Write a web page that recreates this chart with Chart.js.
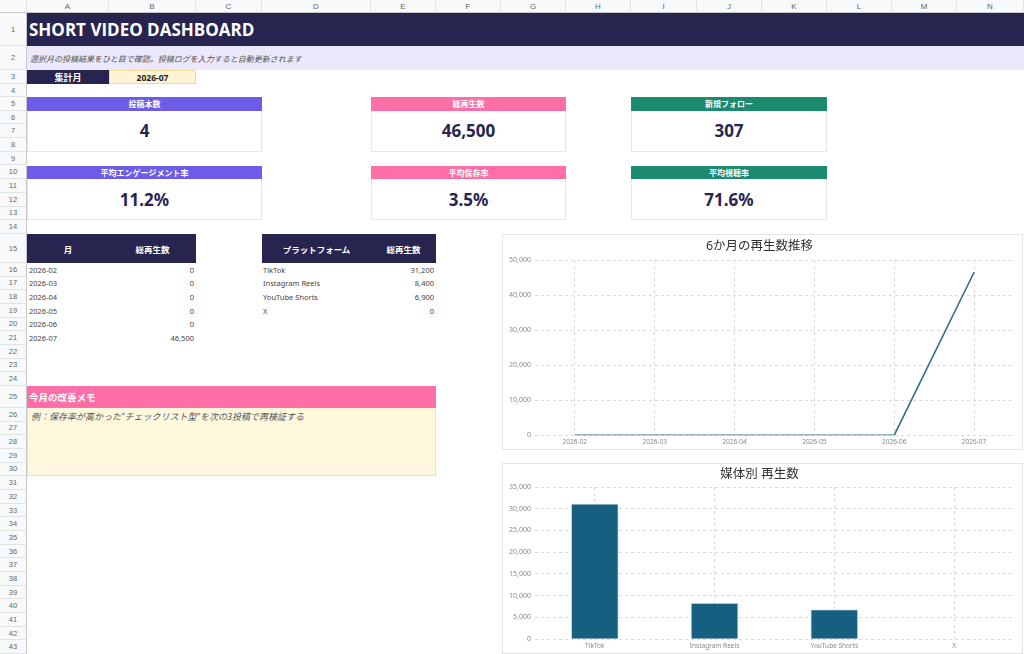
<!DOCTYPE html>
<html lang="ja">
<head>
<meta charset="UTF-8">
<title>Short Video Dashboard</title>
<script src="https://cdn.jsdelivr.net/npm/chart.js"></script>
<style>
  html, body { margin: 0; padding: 0; }
  body {
    width: 1024px; height: 654px; overflow: hidden; position: relative; background: #fff;
    font-family: "Noto Sans", "Noto Sans CJK JP", sans-serif; color: #333;
  }
  .abs { position: absolute; box-sizing: border-box; display: flex; align-items: center; white-space: nowrap; }
  .hdr { background: #f8f9fa; color: #666; font-family: "Liberation Sans", Arial, sans-serif; justify-content: center; }
  .colhdr { font-size: 8px; border-right: 1px solid #e2e3e3; border-bottom: 1px solid #c8c8c8; }
  .rowhdr { font-size: 7.5px; border-bottom: 1px solid #e2e3e3; border-right: 1px solid #c8c8c8; }
  .chartbox { position: absolute; box-sizing: border-box; border: 1px solid #e4e4e4; background: #fff; }
</style>
</head>
<body>
<div class="chartbox" style="left:502px;top:234px;width:521px;height:216px;"><canvas id="trendChart"></canvas></div>
<div class="chartbox" style="left:502px;top:463px;width:521px;height:191px;"><canvas id="platformChart"></canvas></div>

<script>
// ---- data ----
const months = ["2026-02", "2026-03", "2026-04", "2026-05", "2026-06", "2026-07"];
const monthlyViews = [0, 0, 0, 0, 0, 46500];
const platforms = ["TikTok", "Instagram Reels", "YouTube Shorts", "X"];
const platformViews = [31200, 8400, 6900, 0];
const kpiLabels = ["投稿本数", "総再生数", "新規フォロー", "平均エンゲージメント率", "平均保存率", "平均視聴率"];
const kpiValues = ["4", "46,500", "307", "11.2%", "3.5%", "71.6%"];
const trendTicks = [0, 10000, 20000, 30000, 40000, 50000];
const platformTicks = [0, 5000, 10000, 15000, 20000, 25000, 30000, 35000];

// ---- sheet layout ----
const colW = [82, 87, 66, 109, 65, 65, 65, 65, 66, 65, 65, 65, 65, 67];
const rowH = [33, 24, 14, 13]
  .concat(Array(10).fill(13.7), [29], Array(9).fill(13.667), [22], Array(18).fill(13.667));
const colX = [27];
colW.forEach(w => colX.push(colX[colX.length - 1] + w));
const rowY = [13];
rowH.forEach(h => rowY.push(rowY[rowY.length - 1] + h));

function box(c1, r1, c2, r2, css, html) {
  const d = document.createElement("div");
  d.className = "abs";
  d.style.left = colX[c1] + "px";
  d.style.top = rowY[r1 - 1] + "px";
  d.style.width = (colX[c2 + 1] - colX[c1]) + "px";
  d.style.height = (rowY[r2] - rowY[r1 - 1]) + "px";
  d.style.cssText += css;
  if (html !== undefined) d.innerHTML = html;
  document.body.appendChild(d);
  return d;
}

// headers
const corner = document.createElement("div");
corner.className = "abs hdr colhdr";
corner.style.cssText += "left:0;top:0;width:27px;height:13px;";
document.body.appendChild(corner);
"ABCDEFGHIJKLMN".split("").forEach((ch, i) => {
  const d = document.createElement("div");
  d.className = "abs hdr colhdr";
  d.style.cssText += `left:${colX[i]}px;top:0;width:${colW[i]}px;height:13px;`;
  d.textContent = ch;
  document.body.appendChild(d);
});
rowH.forEach((h, i) => {
  const d = document.createElement("div");
  d.className = "abs hdr rowhdr";
  d.style.cssText += `left:0;top:${rowY[i]}px;width:27px;height:${h}px;`;
  d.textContent = i + 1;
  document.body.appendChild(d);
});

const NAVY = "#272550", PURPLE = "#6c5ce7", PINK = "#fe6fa8", GREEN = "#1b8a6e";

// title rows
box(0, 1, 13, 1, `background:${NAVY};color:#fff;font-size:17px;font-weight:700;padding-left:2px;font-family:'Open Sans','Noto Sans',sans-serif;`, "SHORT VIDEO DASHBOARD");
box(0, 2, 13, 2, "background:#ebe8fc;color:#555;font-size:8px;font-style:italic;padding-left:3px;", "選択月の投稿結果をひと目で確認。投稿ログを入力すると自動更新されます");
box(0, 3, 0, 3, `background:${NAVY};color:#fff;font-size:9px;font-weight:700;justify-content:center;`, "集計月");
box(1, 3, 1, 3, "background:#fff5d6;border:1px solid #f6d88e;color:#222;font-size:8.5px;font-weight:700;justify-content:center;", "2026-07");

// KPI cards
const cardCols = [[0, 2], [4, 6], [8, 10]];
const cardColors = [PURPLE, PINK, GREEN];
kpiLabels.forEach((label, i) => {
  const [c1, c2] = cardCols[i % 3];
  const r = i < 3 ? 5 : 10;
  box(c1, r, c2, r, `background:${cardColors[i % 3]};color:#fff;font-size:8px;font-weight:700;justify-content:center;`, label);
  box(c1, r + 1, c2, r + 3, `border:1px solid #e6e6ef;border-top:none;color:${NAVY};font-size:17px;font-weight:700;justify-content:center;`, kpiValues[i]);
});

// small tables
box(0, 15, 0, 15, `background:${NAVY};color:#fff;font-size:8.5px;font-weight:700;justify-content:center;`, "月");
box(1, 15, 1, 15, `background:${NAVY};color:#fff;font-size:8.5px;font-weight:700;justify-content:center;`, "総再生数");
box(3, 15, 3, 15, `background:${NAVY};color:#fff;font-size:8.5px;font-weight:700;justify-content:center;`, "プラットフォーム");
box(4, 15, 4, 15, `background:${NAVY};color:#fff;font-size:8.5px;font-weight:700;justify-content:center;`, "総再生数");
const fmt = v => v.toLocaleString("en-US");
months.forEach((m, i) => {
  box(0, 16 + i, 0, 16 + i, "font-size:7.5px;color:#444;padding-left:2px;", m);
  box(1, 16 + i, 1, 16 + i, "font-size:7.5px;color:#444;justify-content:flex-end;padding-right:2px;", fmt(monthlyViews[i]));
});
platforms.forEach((p, i) => {
  box(3, 16 + i, 3, 16 + i, "font-size:7.5px;color:#444;padding-left:1px;", p);
  box(4, 16 + i, 4, 16 + i, "font-size:7.5px;color:#444;justify-content:flex-end;padding-right:2px;", fmt(platformViews[i]));
});

// memo
box(0, 25, 4, 25, `background:${PINK};color:#fff;font-size:9.5px;font-weight:700;padding-left:2px;`, "今月の改善メモ");
box(0, 26, 4, 30, "background:#fff8dd;border:1px solid #f6e2a6;border-top:none;color:#555;font-size:9px;font-style:italic;align-items:flex-start;padding:2px 0 0 3px;", "例：保存率が高かった\"チェックリスト型\"を次の3投稿で再検証する");

// ---- charts ----
const FONT = "'Noto Sans', 'Noto Sans CJK JP', sans-serif";
Chart.defaults.font.family = FONT;
Chart.defaults.color = "#888";

function axes(tickVals, maxV, step) {
  return {
    x: {
      offset: true,
      grid: { offset: false, color: "#dadada", drawTicks: false },
      border: { display: false, dash: [3, 3] },
      ticks: { font: { size: 6.5 }, color: "#888", padding: 3, maxRotation: 0 }
    },
    y: {
      min: 0, max: maxV,
      afterBuildTicks: s => { s.ticks = tickVals.map(v => ({ value: v })); },
      grid: { color: "#dadada", drawTicks: false },
      border: { display: false, dash: [3, 3] },
      ticks: { font: { size: 7 }, color: "#888", padding: 4, stepSize: step }
    }
  };
}

new Chart(document.getElementById("trendChart"), {
  type: "line",
  data: {
    labels: months,
    datasets: [{ data: monthlyViews, borderColor: "#2f6e8e", borderWidth: 1.6, pointRadius: 0, tension: 0, fill: false }]
  },
  options: {
    responsive: true, maintainAspectRatio: false, animation: false,
    layout: { padding: { left: 2, right: 8, top: 4, bottom: 0 } },
    plugins: {
      legend: { display: false }, tooltip: { enabled: false },
      title: { display: true, text: "6か月の再生数推移", color: "#333", font: { size: 12.5, weight: "normal" }, padding: { top: 0, bottom: 6 } }
    },
    scales: axes(trendTicks, 50000, 10000)
  }
});

new Chart(document.getElementById("platformChart"), {
  type: "bar",
  data: {
    labels: platforms,
    datasets: [{ data: platformViews, backgroundColor: "#175f80", borderColor: "#d3ebf2", borderWidth: 1, categoryPercentage: 0.8, barPercentage: 0.5 }]
  },
  options: {
    responsive: true, maintainAspectRatio: false, animation: false,
    layout: { padding: { left: 2, right: 8, top: 3, bottom: 0 } },
    plugins: {
      legend: { display: false }, tooltip: { enabled: false },
      title: { display: true, text: "媒体別 再生数", color: "#333", font: { size: 12.5, weight: "normal" }, padding: { top: 0, bottom: 5 } }
    },
    scales: axes(platformTicks, 35000, 5000)
  }
});
</script>
</body>
</html>
